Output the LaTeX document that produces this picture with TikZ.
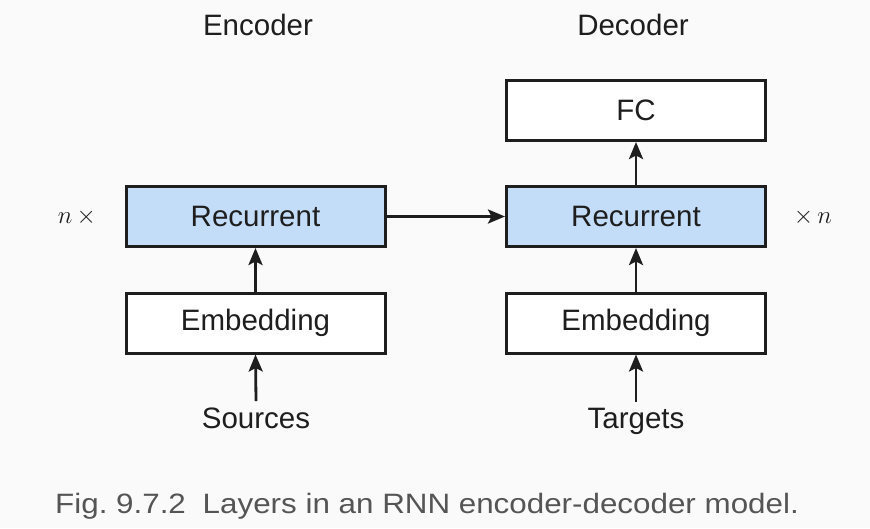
\documentclass[tikz,border=0pt]{standalone}
\usepackage{fontspec}
\setmainfont{Liberation Sans}
\newfontfamily\capfont[FakeStretch=1.12]{Liberation Sans}
\usetikzlibrary{arrows.meta}
\definecolor{bg}{HTML}{FAFAFA}
\definecolor{rnnblue}{HTML}{C3DCF8}
\definecolor{ink}{HTML}{1E1E1E}
\definecolor{capgray}{HTML}{555555}
\tikzset{
  layer/.style={draw=ink, line width=3pt, minimum width=259pt, minimum height=60pt, inner sep=0pt, font=\fontsize{29.5}{31}\selectfont, text=ink},
  rnnlayer/.style={layer, fill=rnnblue},
  plainlayer/.style={layer, fill=white},
  lbl/.style={font=\fontsize{29.5}{31}\selectfont, text=ink, inner sep=0pt},
  mathlbl/.style={font=\fontsize{25}{27}\selectfont, text=ink, inner sep=0pt},
  flow/.style={draw=ink, line width=2.8pt, -{Stealth[length=17pt,width=14pt,inset=3.5pt]}},
}
\begin{document}
\begin{tikzpicture}[x=1pt,y=-1pt]
\fill[bg] (0,0) rectangle (870,528);
\useasboundingbox (0,0) rectangle (870,528);
% encoder
\node[lbl] (enc) at (258,25) {Encoder};
\node[rnnlayer] (erec) at (255.5,216.5) {Recurrent};
\node[plainlayer] (eemb) at (255.5,323) {Embedding};
\node[lbl, anchor=base] (src) at (256,428) {Sources};
\node[mathlbl] (nl) at (77,217) {$n\,\times$};
% decoder
\node[lbl] (dec) at (633,25) {Decoder};
\node[plainlayer] (fc) at (636,110.5) {FC};
\node[rnnlayer] (drec) at (636,216.5) {Recurrent};
\node[plainlayer] (demb) at (636,323) {Embedding};
\node[lbl, anchor=base] (tgt) at (636,428) {Targets};
\node[mathlbl] (nr) at (813,217) {$\times\, n$};
% arrows
\draw[flow] ([yshift=6pt]src.north) -- (eemb.south);
\draw[flow] (eemb.north) -- (erec.south);
\draw[flow] ([yshift=6pt]tgt.north) -- (demb.south);
\draw[flow] (demb.north) -- (drec.south);
\draw[flow] (drec.north) -- (fc.south);
\draw[flow] (erec.east) -- (drec.west);
% caption
\node[anchor=base west, inner sep=0pt, text=capgray, font=\capfont\fontsize{28}{30}\selectfont] (cap) at (55,513) {Fig.~9.7.2\hspace{0.6em}Layers in an RNN encoder-decoder model.};
\end{tikzpicture}
\end{document}
